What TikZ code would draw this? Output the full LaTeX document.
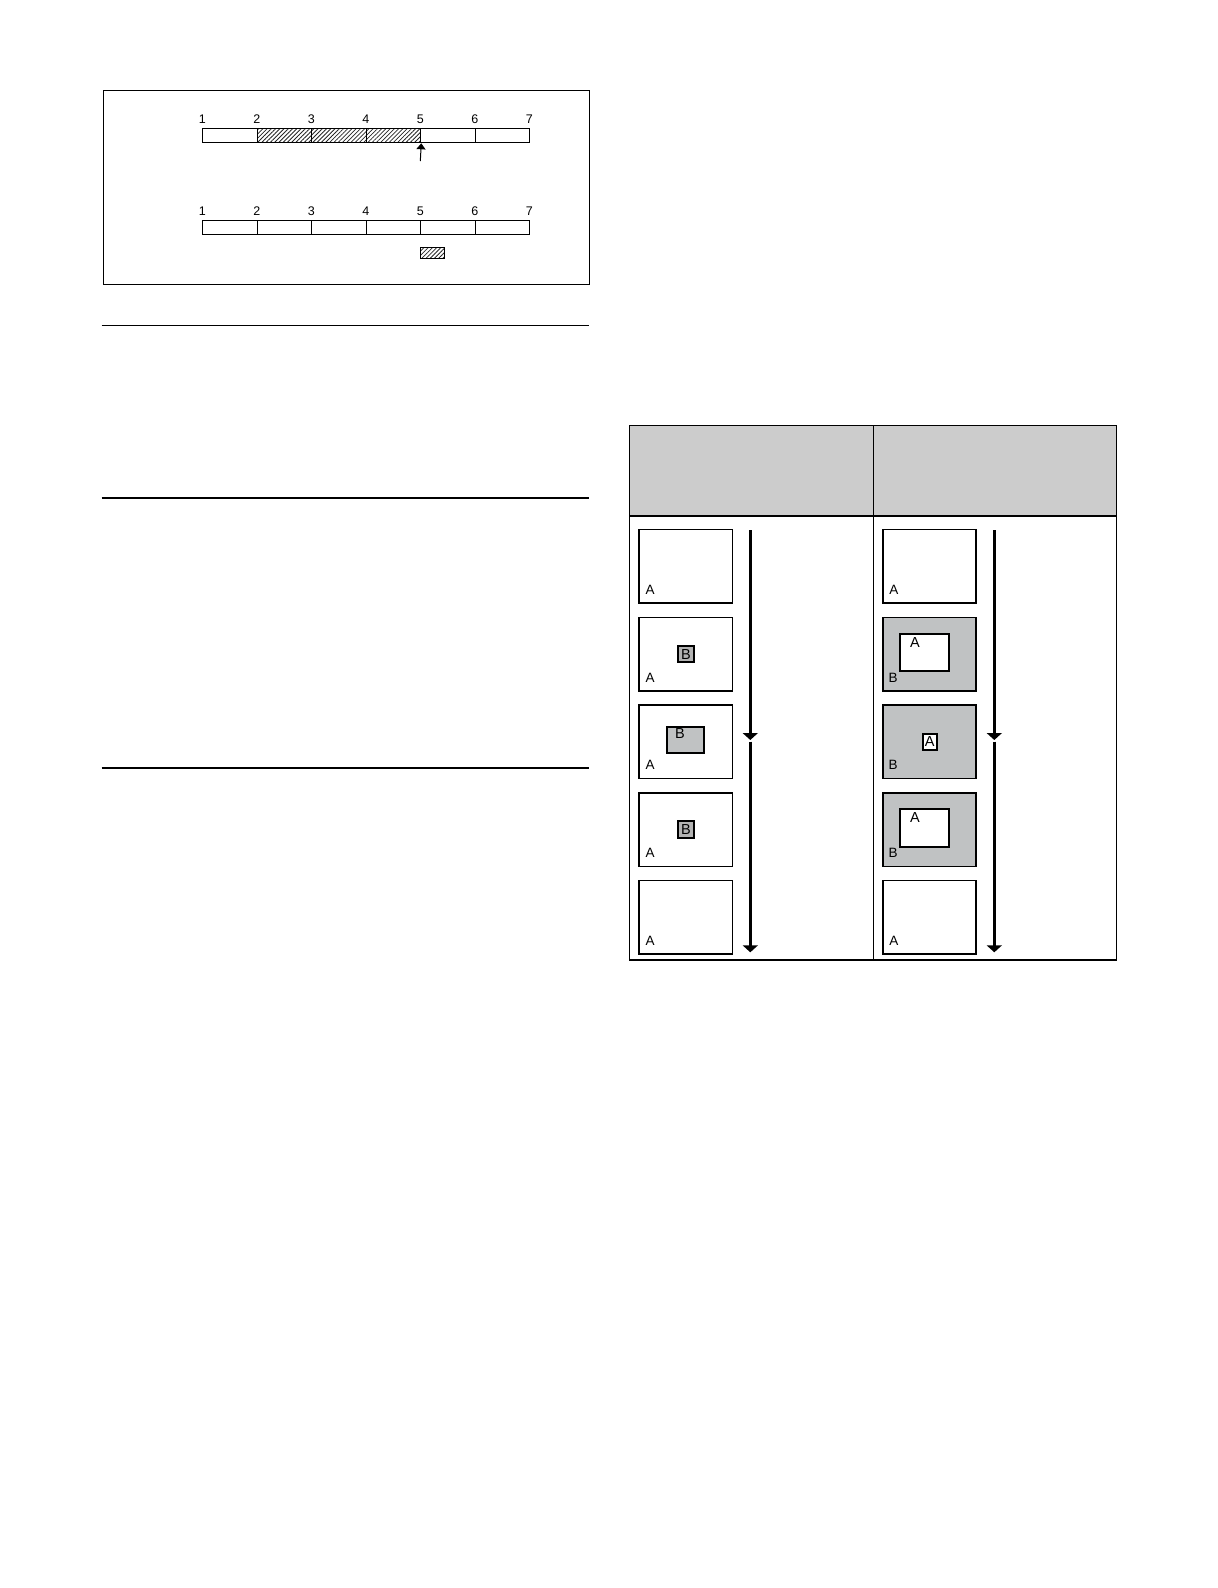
\documentclass[tikz,border=0pt]{standalone}
\usepackage{fontspec}
\setmainfont{Liberation Sans}
\usetikzlibrary{arrows.meta,patterns.meta}
\definecolor{headgray}{HTML}{CCCCCC}
\definecolor{framegray}{HTML}{C0C2C3}
\definecolor{boxgray}{HTML}{B3B3B3}
\begin{document}
\begin{tikzpicture}[x=1pt,y=-1pt,
  cell/.style={draw, line width=1pt, minimum width=54.5pt, minimum height=14pt, inner sep=0pt, anchor=north west},
  hatch/.style={pattern={Lines[angle=45,distance=3pt,line width=0.8pt]}, pattern color=black!85},
  num/.style={font=\fontsize{12.5}{14}\selectfont, inner sep=0pt, anchor=base},
  frame/.style={draw, line width=1.7pt, minimum width=93.4pt, minimum height=73.3pt, inner sep=0pt, anchor=north west},
  lbl/.style={font=\fontsize{13.5}{15}\selectfont, inner sep=0pt, anchor=base west},
  boxlbl/.style={font=\fontsize{14.5}{16}\selectfont, inner sep=0pt},
  smallbox/.style={draw, line width=1.9pt, inner sep=0pt, anchor=north west},
  timeline/.style={line width=3.3pt, -{Triangle[width=15pt,length=7pt]}},
  rule/.style={line width=1.2pt}
]
\useasboundingbox (0,0) rectangle (1218,1588);
\fill[white] (0,0) rectangle (1218,1588);

% ---------- top figure ----------
\node[draw, line width=1pt, minimum width=486.6pt, minimum height=193.7pt, inner sep=0pt, anchor=north west] (topbox) at (102.7,90.3) {};
\foreach \i in {1,...,7} {
  \node[num] (an\i) at ({202.3+(\i-1)*54.5},123.3) {\i};
  \node[num] (bn\i) at ({202.3+(\i-1)*54.5},215.7) {\i};
}
\foreach \i in {1,...,6} {
  \node[cell] (ac\i) at ({202.3+(\i-1)*54.5},128.3) {};
  \node[cell] (bc\i) at ({202.3+(\i-1)*54.5},219.5) {};
}
\foreach \i in {2,3,4} {
  \node[cell, hatch] (hc\i) at ({202.3+(\i-1)*54.5},128.3) {};
}
\coordinate (ptr) at (420.3,161);
\draw[line width=1pt, -{Triangle[width=9pt,length=6pt]}] (ptr) -- (ac4.south east);
\node[draw, line width=0.6pt, hatch, minimum width=24pt, minimum height=11.6pt, inner sep=0pt, anchor=north west] (patch) at (420.3,246.7) {};

% ---------- rules ----------
\coordinate (r1a) at (101.7,325.3); \coordinate (r1b) at (589.3,325.3);
\coordinate (r2a) at (101.7,498);   \coordinate (r2b) at (589.3,498);
\coordinate (r3a) at (101.7,768);   \coordinate (r3b) at (589.3,768);
\draw[rule] (r1a) -- (r1b);
\draw[rule] (r2a) -- (r2b);
\draw[rule] (r3a) -- (r3b);

% ---------- table ----------
\fill[headgray] (629.5,425.3) rectangle (1116.7,515.7);
\draw[line width=1.3pt] (629.5,425.3) rectangle (1116.7,960);
\draw[line width=1.3pt] (873.3,425.3) -- (873.3,960);
\draw[line width=2pt] (629.5,515.7) -- (1116.7,515.7);

% left column frames
\foreach \j/\t in {1/528.7,2/616.7,3/704.3,4/792.3,5/879.7} {
  \node[frame] (L\j) at (638.3,\t) {};
  \node[lbl] (LA\j) at (645.5,{\t+65.3}) {A};
}
\node[smallbox, fill=boxgray, minimum width=15.4pt, minimum height=16pt] (LB2) at (677.3,645.3) {};
\node[boxlbl] (LB2t) at (LB2.center) {B};
\node[smallbox, fill=framegray, minimum width=37pt, minimum height=26pt] (LB3) at (666.3,726.3) {};
\node[boxlbl] (LB3t) at (680,734) {B};
\node[smallbox, fill=boxgray, minimum width=15.4pt, minimum height=16.4pt] (LB4) at (677.3,820.3) {};
\node[boxlbl] (LB4t) at (LB4.center) {B};

% right column frames
\node[frame] (R1) at (882,528.7) {};
\node[lbl] (RA1) at (889.2,594) {A};
\foreach \j/\t in {2/616.7,3/704.3,4/792.3} {
  \node[frame, fill=framegray] (R\j) at (882,\t) {};
  \node[lbl] (RB\j) at (888.5,{\t+65.3}) {B};
}
\node[frame] (R5) at (882,879.7) {};
\node[lbl] (RA5) at (889.2,945) {A};
\node[smallbox, fill=white, minimum width=49.6pt, minimum height=37.6pt] (RA2b) at (898.7,632.7) {};
\node[boxlbl] (RA2t) at (915,642.7) {A};
\node[smallbox, fill=white, minimum width=14pt, minimum height=15.4pt] (RA3b) at (921.7,733.3) {};
\node[boxlbl] (RA3t) at (RA3b.center) {A};
\node[smallbox, fill=white, minimum width=49.6pt, minimum height=38.3pt] (RA4b) at (898.7,807.7) {};
\node[boxlbl] (RA4t) at (915,817.7) {A};

% time arrows
\coordinate (la0) at (750.3,530); \coordinate (la1) at (750.3,740);
\coordinate (la2) at (750.3,741.5); \coordinate (la3) at (750.3,952.3);
\draw[timeline] (la0) -- (la1);
\draw[timeline] (la2) -- (la3);
\coordinate (ra0) at (994.3,530); \coordinate (ra1) at (994.3,740);
\coordinate (ra2) at (994.3,741.5); \coordinate (ra3) at (994.3,952.3);
\draw[timeline] (ra0) -- (ra1);
\draw[timeline] (ra2) -- (ra3);
\end{tikzpicture}
\end{document}
